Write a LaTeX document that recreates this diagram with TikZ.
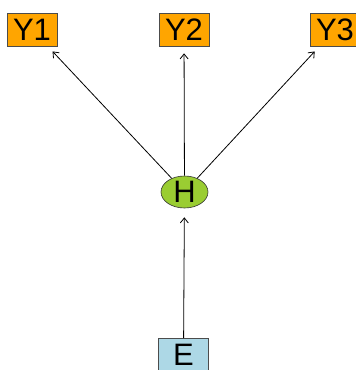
\documentclass[tikz,border=0pt]{standalone}
\usepackage{fontspec}
\setmainfont{Liberation Sans}
\usepackage{tikz}
\usetikzlibrary{arrows.meta}
\usetikzlibrary{shapes.geometric}
\definecolor{obsorange}{HTML}{FFA500}
\definecolor{latgreen}{HTML}{9ACD32}
\definecolor{exoblue}{HTML}{ADD8E6}

\begin{document}
\begin{tikzpicture}[x=1pt,y=-1pt,font=\fontsize{31}{33}\selectfont,
	box/.style={draw=black!70,line width=0.6pt,minimum width=50pt,minimum height=33pt,inner sep=0pt},
	obs/.style={box,fill=obsorange},
	exo/.style={box,fill=exoblue},
	latent/.style={ellipse,draw=black!80,line width=0.6pt,fill=latgreen,minimum width=47pt,minimum height=32pt,inner sep=0pt},
	edge/.style={-{Straight Barb[length=5pt,width=8pt]},line width=0.8pt,shorten >=7pt}]
	\useasboundingbox (0,0) rectangle (356,370);
	\node[latent] (H) at (184.5,192) {H};
	\node[exo] (E) at (183.5,355) {E};
	\foreach \name/\xpos in {Y1/32, Y2/184, Y3/335} {
		\node[obs] (\name) at (\xpos,29.5) {\name};
		\draw[edge] (H) -- (\name);
	}
	\draw[edge,shorten >=9pt] (E) -- (H);
\end{tikzpicture}
\end{document}
